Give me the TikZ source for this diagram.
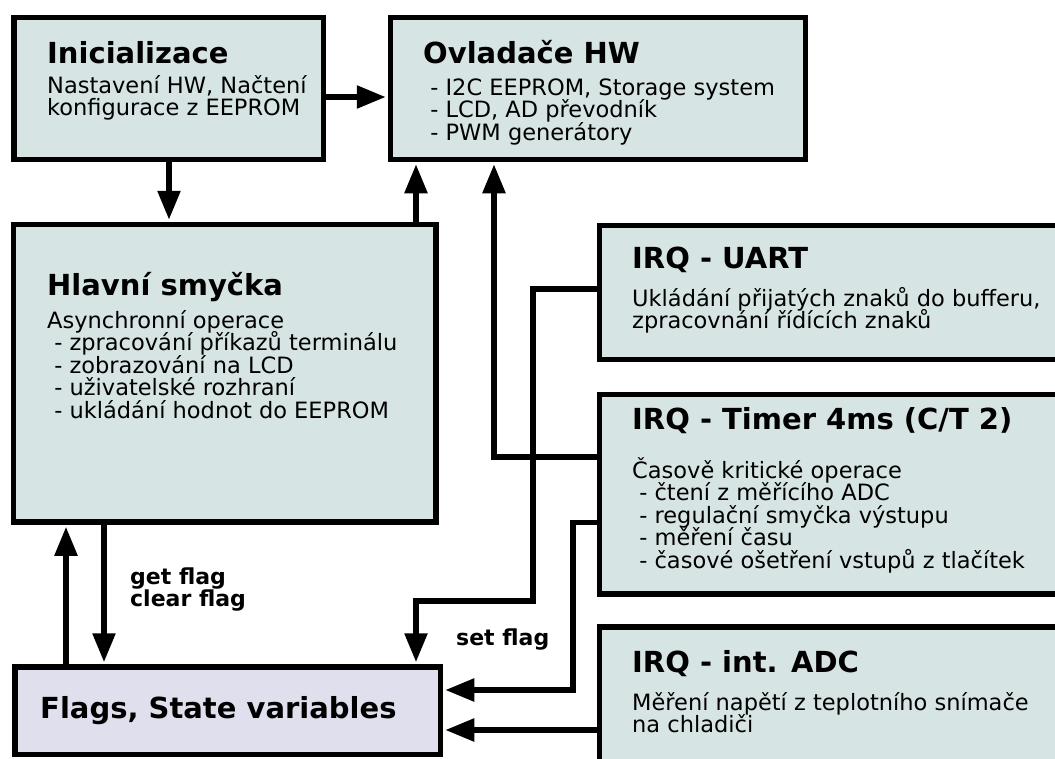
\documentclass[tikz,border=0pt]{standalone}
\usepackage{fontspec}
\setmainfont{DejaVu Sans}
\usetikzlibrary{arrows.meta}
\definecolor{boxfill}{HTML}{D7E4E4}
\definecolor{flagfill}{HTML}{DFDFED}
\newcommand\tblock[1]{\vtop{\baselineskip=22.5pt\lineskiplimit=-1000pt\lineskip=0pt #1}}
\newcommand\tline[1]{\hbox{#1}}
\begin{document}
\begin{tikzpicture}[x=1pt,y=-1pt,
  box/.style={draw=black, line width=5.5pt, fill=boxfill, inner sep=0pt},
  flagbox/.style={box, fill=flagfill},
  title/.style={anchor=base west, inner sep=0pt, font=\fontsize{29}{34}\bfseries\selectfont},
  body/.style={anchor=base west, inner sep=0pt, font=\fontsize{22.5}{22.5}\selectfont},
  lbl/.style={anchor=base west, inner sep=0pt, font=\fontsize{22}{22}\bfseries\selectfont},
  conn/.style={draw=black, line width=5.5pt, -{Triangle[length=29pt,width=22pt]}, shorten >=2pt}]
\clip (0,0) rectangle (1055,758);
% boxes
\node[box, minimum width=309.5pt, minimum height=142pt] (init) at (168.75,88.5) {};
\node[box, minimum width=415pt, minimum height=142pt] (ovl) at (598,88.5) {};
\node[box, minimum width=422.5pt, minimum height=297.5pt] (main) at (224.75,373.25) {};
\node[flagbox, minimum width=425.5pt, minimum height=87.5pt] (flags) at (227.75,710.75) {};
\node[box, minimum width=480.5pt, minimum height=134pt] (uart) at (839.75,292.5) {};
\node[box, minimum width=480.5pt, minimum height=199.5pt] (timer) at (839.75,494.25) {};
\node[box, minimum width=480.5pt, minimum height=173pt] (adc) at (839.75,713.5) {};
% connectors
\draw[conn] (init.east |- 0,97) -- (ovl.west |- 0,97);
\draw[conn] (init.south -| 169,0) -- (main.north -| 169,0);
\draw[conn] (main.north -| 416,0) -- (ovl.south -| 416,0);
\draw[conn] (timer.west |- 0,457) -- (494,457) -- (ovl.south -| 494,0);
\draw[conn] (uart.west |- 0,289) -- (533,289) -- (533,601) -- (416,601) -- (flags.north -| 416,0);
\draw[conn] (timer.west |- 0,522.5) -- (573,522.5) -- (573,690) -- (flags.east |- 0,690);
\draw[conn] (adc.west |- 0,730) -- (flags.east |- 0,730);
\draw[conn] (flags.north -| 66,0) -- (main.south -| 66,0);
\draw[conn] (main.south -| 104,0) -- (flags.north -| 104,0);
% texts
\node[title] (initT) at (47,63) {Inicializace};
\node[body] (initB) at (47,93) {\tblock{\tline{Nastavení HW, Načtení}\tline{konfigurace z EEPROM}}};
\node[title] (ovlT) at (423,63) {Ovladače HW};
\node[body] (ovlB) at (423,95) {\tblock{\tline{\ - I2C EEPROM, Storage system}\tline{\ - LCD, AD převodník}\tline{\ - PWM generátory}}};
\node[title] (mainT) at (47,295) {Hlavní smyčka};
\node[body] (mainB) at (47,328) {\tblock{\tline{Asynchronní operace}\tline{\ - zpracování příkazů terminálu}\tline{\ - zobrazování na LCD}\tline{\ - uživatelské rozhraní}\tline{\ - ukládání hodnot do EEPROM}}};
\node[title] (uartT) at (632,268) {IRQ - UART};
\node[body] (uartB) at (632,306) {\tblock{\tline{Ukládání přijatých znaků do bufferu,}\tline{zpracovnání řídících znaků}}};
\node[title] (timerT) at (632,429) {IRQ - Timer 4ms (C/T 2)};
\node[body] (timerB) at (632,478) {\tblock{\tline{Časově kritické operace}\tline{\ - čtení z měřícího ADC}\tline{\ - regulační smyčka výstupu}\tline{\ - měření času}\tline{\ - časové ošetření vstupů z tlačítek}}};
\node[title] (adcT) at (632,672) {IRQ - int. ADC};
\node[body] (adcB) at (632,710) {\tblock{\tline{Měření napětí z teplotního snímače}\tline{na chladiči}}};
\node[title] (flagsT) at (40,718) {Flags, State variables};
\node[lbl] (getL) at (130,584) {\vtop{\baselineskip=22pt\lineskiplimit=-1000pt\hbox{get flag}\hbox{clear flag}}};
\node[lbl] (setL) at (456,645) {set flag};
\end{tikzpicture}
\end{document}
